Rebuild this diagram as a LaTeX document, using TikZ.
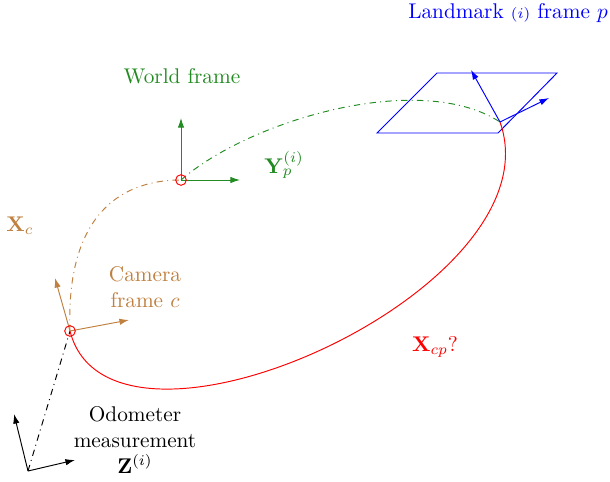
\documentclass[tikz,border=0pt]{standalone}
\usepackage{amsmath}
\usetikzlibrary{arrows.meta}
\definecolor{worldgreen}{RGB}{34,139,34}
\definecolor{cambrown}{RGB}{191,128,64}
\begin{document}
\begin{tikzpicture}[
			x = 0.47pt, y = -0.47pt, % pixel units, y downwards
			> = {Latex[length=4.5pt,width=3pt]}, % arrow head style
			line width = 0.45pt, % line style
			font=\normalsize
			]
			
			\tikzstyle{origin}=[
			draw = red,
			circle,
			inner sep = 0pt,
			minimum size = 5pt
			]
			\tikzstyle{axis}=[->]
			
			\useasboundingbox (0,0) rectangle (610,481);
			
			% frame origins
			\coordinate (odom) at (28,471);
			\coordinate (cam) at (70,331);
			\coordinate (world) at (181,180);
			\coordinate (lm) at (500,122);
			
			% axis tips
			\coordinate (odomy) at (14,414);
			\coordinate (odomx) at (75,460);
			\coordinate (camy) at (55,278);
			\coordinate (camx) at (129,320);
			\coordinate (worldy) at (181,118);
			\coordinate (worldx) at (240,180);
			\coordinate (lmy) at (471,70);
			\coordinate (lmx) at (549,98);
			
			% landmark plane
			\coordinate (pa) at (377,133);
			\coordinate (pb) at (498,133);
			\coordinate (pc) at (557,73);
			\coordinate (pd) at (437,73);
			\draw[blue] (pa) -- (pb) -- (pc) -- (pd) -- cycle;
			
			% transforms
			\draw[dash dot] (odom) -- (cam);
			\draw[cambrown, dash dot] (cam) .. controls (66,225) and (112,180) .. (world);
			\draw[worldgreen, dash dot] (world) .. controls (250,120) and (420,70) .. (lm);
			\draw[red] (cam) .. controls (110,490) and (560,290) .. (lm);
			
			% axes
			\draw[axis] (odom) -- (odomy);
			\draw[axis] (odom) -- (odomx);
			\draw[axis, cambrown] (cam) -- (camy);
			\draw[axis, cambrown] (cam) -- (camx);
			\draw[axis, worldgreen] (world) -- (worldy);
			\draw[axis, worldgreen] (world) -- (worldx);
			\draw[axis, blue] (lm) -- (lmy);
			\draw[axis, blue] (lm) -- (lmx);
			
			\node[origin] (camcirc) at (cam) {};
			\node[origin] (worldcirc) at (world) {};
			
			% labels
			\node[blue] (lmlabel) at (508,13) {Landmark $\scriptstyle(i)$ frame $p$};
			\node[worldgreen] (worldlabel) at (182,76) {World frame};
			\node[worldgreen] (ylabel) at (284,165) {$\mathbf{Y}_p^{(i)}$};
			\node[cambrown] (xclabel) at (20,226) {$\mathbf{X}_c$};
			\node[cambrown, align=center] (camlabel) at (145,287) {Camera\\frame $c$};
			\node[red] (xcplabel) at (435,347) {$\mathbf{X}_{cp}?$};
			\node[align=center] (odomlabel) at (135,440) {Odometer\\measurement\\$\mathbf{Z}^{(i)}$};
		\end{tikzpicture}
\end{document}
